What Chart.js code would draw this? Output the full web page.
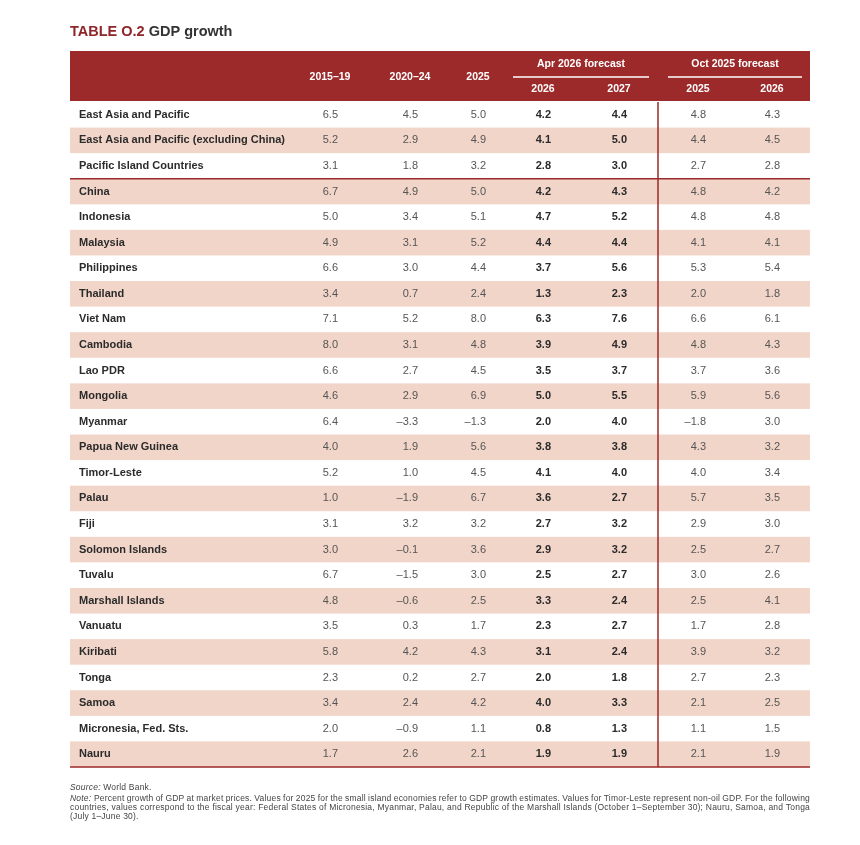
<!DOCTYPE html>
<html>
<head>
<meta charset="utf-8">
<title>GDP growth</title>
<script src="https://cdn.jsdelivr.net/npm/chart.js@4/dist/chart.umd.min.js"></script>
<style>
  html, body { margin: 0; padding: 0; background: #fff; }
  #chart { display: block; }
</style>
</head>
<body>
<canvas id="chart" width="860" height="845"></canvas>
<script>
// table data
const economies = [
    'East Asia and Pacific', 'East Asia and Pacific (excluding China)', 'Pacific Island Countries',
    'China', 'Indonesia', 'Malaysia', 'Philippines', 'Thailand', 'Viet Nam', 'Cambodia', 'Lao PDR',
    'Mongolia', 'Myanmar', 'Papua New Guinea', 'Timor-Leste', 'Palau', 'Fiji', 'Solomon Islands',
    'Tuvalu', 'Marshall Islands', 'Vanuatu', 'Kiribati', 'Tonga', 'Samoa', 'Micronesia, Fed. Sts.', 'Nauru'
];
const columnLabels = ['2015–19', '2020–24', '2025', '2026', '2027', '2025', '2026'];
const groupLabels = ['Apr 2026 forecast', 'Oct 2025 forecast'];

const avg2015_19 = [6.5, 5.2, 3.1, 6.7, 5.0, 4.9, 6.6, 3.4, 7.1, 8.0, 6.6, 4.6, 6.4, 4.0, 5.2, 1.0, 3.1, 3.0, 6.7, 4.8, 3.5, 5.8, 2.3, 3.4, 2.0, 1.7];
const avg2020_24 = [4.5, 2.9, 1.8, 4.9, 3.4, 3.1, 3.0, 0.7, 5.2, 3.1, 2.7, 2.9, -3.3, 1.9, 1.0, -1.9, 3.2, -0.1, -1.5, -0.6, 0.3, 4.2, 0.2, 2.4, -0.9, 2.6];
const est2025 = [5.0, 4.9, 3.2, 5.0, 5.1, 5.2, 4.4, 2.4, 8.0, 4.8, 4.5, 6.9, -1.3, 5.6, 4.5, 6.7, 3.2, 3.6, 3.0, 2.5, 1.7, 4.3, 2.7, 4.2, 1.1, 2.1];
const apr2026 = [4.2, 4.1, 2.8, 4.2, 4.7, 4.4, 3.7, 1.3, 6.3, 3.9, 3.5, 5.0, 2.0, 3.8, 4.1, 3.6, 2.7, 2.9, 2.5, 3.3, 2.3, 3.1, 2.0, 4.0, 0.8, 1.9];
const apr2027 = [4.4, 5.0, 3.0, 4.3, 5.2, 4.4, 5.6, 2.3, 7.6, 4.9, 3.7, 5.5, 4.0, 3.8, 4.0, 2.7, 3.2, 3.2, 2.7, 2.4, 2.7, 2.4, 1.8, 3.3, 1.3, 1.9];
const oct2025 = [4.8, 4.4, 2.7, 4.8, 4.8, 4.1, 5.3, 2.0, 6.6, 4.8, 3.7, 5.9, -1.8, 4.3, 4.0, 5.7, 2.9, 2.5, 3.0, 2.5, 1.7, 3.9, 2.7, 2.1, 1.1, 2.1];
const oct2026 = [4.3, 4.5, 2.8, 4.2, 4.8, 4.1, 5.4, 1.8, 6.1, 4.3, 3.6, 5.6, 3.0, 3.2, 3.4, 3.5, 3.0, 2.7, 2.6, 4.1, 2.8, 3.2, 2.3, 2.5, 1.5, 1.9];

const seriesList = [avg2015_19, avg2020_24, est2025, apr2026, apr2027, oct2025, oct2026];
const boldSeries = [false, false, false, true, true, false, false];

// layout (table units along x = pixels from the table's left edge)
const TABLE_W = 740;
const colRight = [268, 348, 416, 481, 557, 636, 710];
const HEADER_SHIFT = 8;
const LABEL_X = 9;
const SPLIT_X = 588;

const RED = '#9c2a2a';
const SHADE = '#f2d5c9';
const FONT = '"Liberation Sans", Arial, Helvetica, sans-serif';

function fmt(v) {
    const s = Math.abs(v).toFixed(1);
    return v < 0 ? '–' + s : s;
}

const tablePlugin = {
    id: 'tablePlugin',
    beforeDatasetsDraw(chart) {
        const { ctx, chartArea, scales } = chart;
        const x = scales.x, y = scales.y;
        const left = x.getPixelForValue(0), right = x.getPixelForValue(TABLE_W);
        ctx.save();
        // alternating row shading
        economies.forEach((name, i) => {
            if (i % 2 === 1) {
                const top = y.getPixelForValue(i - 0.5);
                const bottom = y.getPixelForValue(i + 0.5);
                ctx.fillStyle = SHADE;
                ctx.fillRect(left, top, right - left, bottom - top);
            }
        });
        // separators
        ctx.strokeStyle = RED;
        ctx.lineWidth = 1.5;
        const sep = y.getPixelForValue(2.5);
        ctx.beginPath();
        ctx.moveTo(left, sep); ctx.lineTo(right, sep);
        const bottom = y.getPixelForValue(economies.length - 0.5);
        ctx.moveTo(left, bottom); ctx.lineTo(right, bottom);
        const vx = x.getPixelForValue(SPLIT_X);
        ctx.moveTo(vx, chartArea.top); ctx.lineTo(vx, bottom);
        ctx.stroke();
        ctx.restore();
    },
    afterDatasetsDraw(chart) {
        const { ctx, scales } = chart;
        const x = scales.x, y = scales.y;
        ctx.save();
        ctx.textBaseline = 'middle';
        // row labels
        ctx.textAlign = 'left';
        ctx.fillStyle = '#2b2b2b';
        ctx.font = 'bold 11px ' + FONT;
        economies.forEach((name, i) => {
            ctx.fillText(name, x.getPixelForValue(LABEL_X), y.getPixelForValue(i));
        });
        // values, placed at each point of each dataset
        ctx.textAlign = 'right';
        chart.data.datasets.forEach((ds, di) => {
            const meta = chart.getDatasetMeta(di);
            ctx.font = (boldSeries[di] ? 'bold ' : '') + '11px ' + FONT;
            ctx.fillStyle = boldSeries[di] ? '#2b2b2b' : '#555';
            meta.data.forEach((pt, i) => {
                ctx.fillText(fmt(seriesList[di][i]), pt.x, pt.y);
            });
        });
        ctx.restore();
    },
    afterDraw(chart) {
        const { ctx, chartArea, scales } = chart;
        const x = scales.x;
        const left = x.getPixelForValue(0), right = x.getPixelForValue(TABLE_W);
        const top = chartArea.top;
        ctx.save();

        // title
        ctx.textBaseline = 'alphabetic';
        ctx.textAlign = 'left';
        ctx.font = 'bold 14.5px ' + FONT;
        ctx.fillStyle = '#8e2529';
        ctx.fillText('TABLE O.2', left, 36);
        const w = ctx.measureText('TABLE O.2 ').width;
        ctx.fillStyle = '#333';
        ctx.fillText('GDP growth', left + w, 36);

        // header band
        ctx.fillStyle = RED;
        ctx.fillRect(left, top - 51, right - left, 50);
        ctx.fillStyle = '#fff';
        ctx.textBaseline = 'middle';
        ctx.textAlign = 'center';
        ctx.font = 'bold 10.5px ' + FONT;
        columnLabels.forEach((lab, c) => {
            const cx = x.getPixelForValue(colRight[c] - HEADER_SHIFT);
            const cy = c < 3 ? top - 25 : top - 13;
            ctx.fillText(lab, cx, cy);
        });
        // group headings with underline
        const groups = [[3, 4], [5, 6]];
        groups.forEach((g, gi) => {
            const x0 = x.getPixelForValue(colRight[g[0]] - HEADER_SHIFT) - 30;
            const x1 = x.getPixelForValue(colRight[g[1]] - HEADER_SHIFT) + 30;
            ctx.fillText(groupLabels[gi], (x0 + x1) / 2, top - 38);
            ctx.strokeStyle = '#fff';
            ctx.lineWidth = 1.5;
            ctx.beginPath();
            ctx.moveTo(x0, top - 25); ctx.lineTo(x1, top - 25);
            ctx.stroke();
        });

        // notes
        ctx.textAlign = 'left';
        ctx.textBaseline = 'alphabetic';
        ctx.fillStyle = '#444';
        if ('letterSpacing' in ctx) ctx.letterSpacing = '0.2px';
        const small = '8.5px ' + FONT;
        const italic = 'italic 8.5px ' + FONT;
        ctx.font = italic;
        ctx.fillText('Source:', left, 790);
        let sw = ctx.measureText('Source: ').width;
        ctx.font = small;
        ctx.fillText('World Bank.', left + sw, 790);

        const noteLines = [
            'Percent growth of GDP at market prices. Values for 2025 for the small island economies refer to GDP growth estimates. Values for Timor-Leste represent non-oil GDP. For the following',
            'countries, values correspond to the fiscal year: Federal States of Micronesia, Myanmar, Palau, and Republic of the Marshall Islands (October 1–September 30); Nauru, Samoa, and Tonga',
            '(July 1–June 30).'
        ];
        const lineY = [801, 810, 819];
        noteLines.forEach((line, li) => {
            let startX = left;
            if (li === 0) {
                ctx.font = italic;
                ctx.fillText('Note:', left, lineY[li]);
                startX = left + ctx.measureText('Note: ').width;
            }
            ctx.font = small;
            if (li < 2) {
                // justify across the table width
                const words = line.split(' ');
                const wordsW = words.reduce((a, wd) => a + ctx.measureText(wd).width, 0);
                const gap = (right - startX - wordsW) / (words.length - 1);
                let cx = startX;
                words.forEach(wd => {
                    ctx.fillText(wd, cx, lineY[li]);
                    cx += ctx.measureText(wd).width + gap;
                });
            } else {
                ctx.fillText(line, startX, lineY[li]);
            }
        });
        ctx.restore();
    }
};

const datasets = seriesList.map((vals, c) => ({
    label: columnLabels[c],
    data: vals.map((v, i) => ({ x: colRight[c], y: i })),
    pointRadius: 0,
    pointHoverRadius: 0,
    showLine: false
}));

new Chart(document.getElementById('chart').getContext('2d'), {
    type: 'scatter',
    data: { datasets: datasets },
    options: {
        responsive: false,
        animation: false,
        devicePixelRatio: 1,
        layout: { padding: { left: 70, right: 50, top: 102, bottom: 78 } },
        scales: {
            x: { type: 'linear', min: 0, max: TABLE_W, display: false },
            y: { type: 'linear', min: -0.5, max: economies.length - 0.5, reverse: true, display: false }
        },
        plugins: {
            legend: { display: false },
            tooltip: { enabled: false }
        },
        events: []
    },
    plugins: [tablePlugin]
});
</script>
</body>
</html>
